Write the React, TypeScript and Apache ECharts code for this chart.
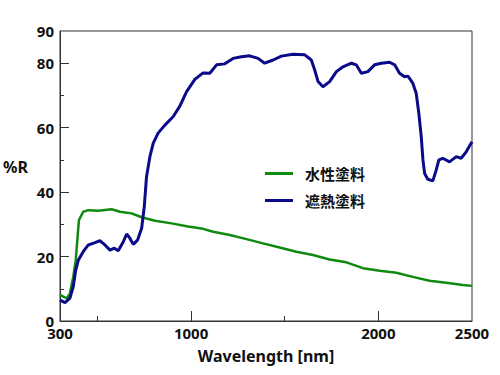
import React, { useEffect, useRef } from "react";
import * as echarts from "echarts";

const seriesNames = ["水性塗料", "遮熱塗料"];

const waterWavelength = [300, 336, 353, 371, 384, 394, 401, 424, 451, 504, 576, 620, 682, 736, 807, 896, 984, 1064, 1118, 1207, 1296, 1384, 1473, 1562, 1651, 1740, 1829, 1918, 2007, 2096, 2184, 2273, 2362, 2451, 2500];
const waterValues = [8.1, 7.0, 8.6, 13.8, 18.9, 26.2, 31.3, 33.9, 34.4, 34.2, 34.7, 33.9, 33.4, 32.2, 31.1, 30.3, 29.3, 28.6, 27.7, 26.7, 25.4, 24.1, 22.8, 21.5, 20.5, 19.1, 18.2, 16.4, 15.6, 15.0, 13.7, 12.5, 11.9, 11.2, 10.9];

const heatWavelength = [300, 327, 353, 371, 384, 398, 424, 451, 487, 513, 540, 567, 590, 611, 638, 656, 673, 691, 714, 736, 750, 762, 780, 798, 824, 860, 904, 940, 976, 1020, 1064, 1100, 1136, 1180, 1224, 1269, 1313, 1358, 1393, 1438, 1482, 1544, 1607, 1642, 1660, 1678, 1704, 1740, 1776, 1811, 1856, 1882, 1909, 1944, 1980, 2016, 2060, 2087, 2113, 2140, 2158, 2184, 2202, 2216, 2229, 2238, 2247, 2264, 2291, 2309, 2323, 2344, 2380, 2416, 2442, 2469, 2500];
const heatValues = [6.5, 5.7, 7.1, 10.7, 15.8, 18.9, 21.5, 23.6, 24.3, 24.9, 23.6, 22.0, 22.6, 21.8, 24.6, 27.0, 25.7, 23.8, 25.1, 28.8, 35.5, 44.8, 51.0, 55.2, 58.3, 60.8, 63.4, 66.7, 71.2, 75.0, 77.0, 76.9, 79.5, 79.8, 81.5, 82.0, 82.3, 81.5, 80.0, 81.0, 82.2, 82.8, 82.6, 81.0, 77.9, 74.3, 72.7, 74.3, 77.4, 78.9, 80.0, 79.5, 76.9, 77.4, 79.5, 80.0, 80.3, 79.5, 76.9, 75.8, 76.0, 73.8, 70.7, 64.5, 57.2, 50.0, 45.8, 44.0, 43.5, 46.9, 50.0, 50.5, 49.4, 51.0, 50.5, 52.5, 55.6];

const xLabelValues = [300, 1000, 2000, 2500];
const xMajorTicks = [1000, 2000];
const xMinorTicks = [500, 1500];
const yLabelValues = [0, 20, 40, 60, 80, 90];
const yMajorTicks = [20, 40, 60, 80];
const yMinorTicks = [10, 30, 50, 70];

const colors = ["#0f8a0f", "#0a0a8a"];
const font = "'Noto Sans', 'Noto Sans CJK JP', sans-serif";

export default function App() {
  const ref = useRef<HTMLDivElement>(null);
  useEffect(() => {
    if (!ref.current) return;
    document.body.style.margin = "0";
    const chart = echarts.init(ref.current, undefined, { renderer: "svg" });
    const axisBase = {
      type: "value" as const,
      gridIndex: 0,
    };
    const plain = (v: number) => String(v);
    chart.setOption({
      animation: false,
      backgroundColor: "#ffffff",
      grid: {
        left: 60,
        top: 31,
        right: 28,
        bottom: 54,
        containLabel: false,
        outerBoundsMode: "none",
        show: true,
        borderColor: "#333",
        borderWidth: 1,
        backgroundColor: "transparent",
      },
      legend: {
        orient: "vertical",
        left: 265,
        top: 166,
        padding: 0,
        itemWidth: 28,
        itemHeight: 3,
        itemGap: 12,
        icon: "rect",
        data: seriesNames,
        textStyle: {
          fontFamily: font,
          fontWeight: "bold",
          fontSize: 15,
          color: "#111",
          padding: [0, 0, 0, 7],
        },
      },
      graphic: [
        {
          type: "text",
          left: 3,
          top: 159,
          style: {
            text: "%R",
            font: `bold 16px ${font}`,
            fill: "#111",
          },
        },
      ],
      xAxis: [
        {
          ...axisBase,
          min: 300,
          max: 2500,
          name: "Wavelength [nm]",
          nameLocation: "middle",
          nameGap: 27,
          nameTextStyle: { fontFamily: font, fontWeight: "bold", fontSize: 16, color: "#111" },
          axisLine: { show: true, lineStyle: { color: "#333", width: 1 } },
          axisTick: {
            show: true,
            inside: true,
            length: 10,
            customValues: xMajorTicks,
            lineStyle: { color: "#333", width: 1 },
          },
          axisLabel: {
            customValues: xLabelValues,
            formatter: plain,
            margin: 4,
            fontFamily: font,
            fontWeight: "bold",
            fontSize: 15,
            color: "#111",
          },
          splitLine: { show: false },
        },
        {
          ...axisBase,
          min: 300,
          max: 2500,
          position: "bottom",
          axisLine: { show: false },
          axisTick: {
            show: true,
            inside: true,
            length: 5,
            customValues: xMinorTicks,
            lineStyle: { color: "#333", width: 1 },
          },
          axisLabel: { show: false },
          splitLine: { show: false },
        },
      ],
      yAxis: [
        {
          ...axisBase,
          min: 0,
          max: 90,
          axisLine: { show: true, lineStyle: { color: "#333", width: 1 } },
          axisTick: {
            show: true,
            inside: true,
            length: 9,
            customValues: yMajorTicks,
            lineStyle: { color: "#333", width: 1 },
          },
          axisLabel: {
            customValues: yLabelValues,
            formatter: plain,
            margin: 6,
            fontFamily: font,
            fontWeight: "bold",
            fontSize: 15,
            color: "#111",
          },
          splitLine: { show: false },
        },
        {
          ...axisBase,
          min: 0,
          max: 90,
          position: "left",
          axisLine: { show: false },
          axisTick: {
            show: true,
            inside: true,
            length: 4,
            customValues: yMinorTicks,
            lineStyle: { color: "#333", width: 1 },
          },
          axisLabel: { show: false },
          splitLine: { show: false },
        },
      ],
      series: [
        {
          name: seriesNames[0],
          type: "line",
          xAxisIndex: 0,
          yAxisIndex: 0,
          data: waterWavelength.map((w, i) => [w, waterValues[i]]),
          showSymbol: false,
          symbol: "none",
          lineStyle: { color: colors[0], width: 2.5 },
          itemStyle: { color: colors[0] },
        },
        {
          name: seriesNames[1],
          type: "line",
          xAxisIndex: 0,
          yAxisIndex: 0,
          data: heatWavelength.map((w, i) => [w, heatValues[i]]),
          showSymbol: false,
          symbol: "none",
          lineStyle: { color: colors[1], width: 3 },
          itemStyle: { color: colors[1] },
        },
      ],
    });
    return () => chart.dispose();
  }, []);
  return <div ref={ref} style={{ width: 500, height: 375 }} />;
}
